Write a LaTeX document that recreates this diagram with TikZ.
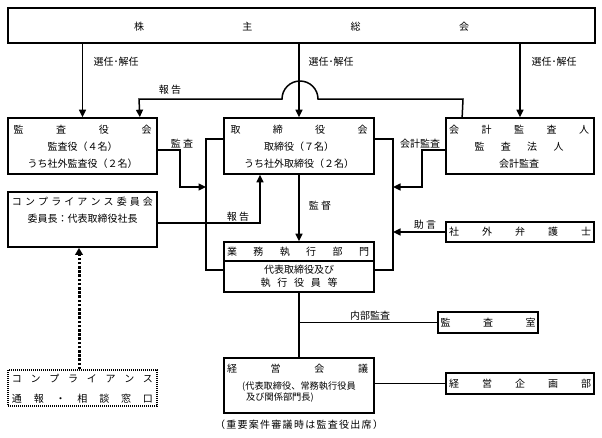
\documentclass[tikz,border=0pt]{standalone}
\usepackage{fontspec}
\setmainfont{Noto Sans CJK JP}
\usetikzlibrary{arrows.meta}
\tikzset{
 bx/.style={draw, line width=1.7pt, inner sep=0pt},
 ln/.style={line width=1.5pt},
 arr/.style={line width=1.5pt, -{Triangle[length=7.5pt,width=7pt]}},
 dotarr/.style={line width=3pt, dash pattern=on 2.6pt off 1.6pt, -{Triangle[length=7pt,width=7.5pt]}},
 tx/.style={inner sep=0pt, font=\fontsize{10}{11}\selectfont},
 sm/.style={inner sep=0pt, font=\fontsize{9.2}{11}\selectfont},
}
\newcommand\spr[2]{\makebox[#1][s]{#2}}
\begin{document}
\begin{tikzpicture}[x=1pt,y=-1pt]
\useasboundingbox (0,0) rectangle (602,437);
% boxes
\node[bx, minimum width=587pt, minimum height=35pt] (sh) at (301.5,25.5) {};
\node[bx, minimum width=149pt, minimum height=56pt] (kansa) at (82.5,146) {};
\node[bx, minimum width=150pt, minimum height=56pt] (tori) at (299,146) {};
\node[bx, minimum width=148pt, minimum height=56pt] (kaikei) at (520,146) {};
\node[bx, minimum width=149pt, minimum height=55pt] (comp) at (82.5,219.5) {};
\node[draw, line width=1.2pt, dash pattern=on 1pt off 1pt, inner sep=0pt, minimum width=149pt, minimum height=36pt] (window) at (82.5,388) {};
\node[bx, minimum width=150pt, minimum height=50pt] (gyomu) at (299,267) {};
\node[bx, minimum width=148pt, minimum height=20pt] (bengo) at (520,232) {};
\node[bx, minimum width=100pt, minimum height=21pt] (kshitsu) at (488,322.5) {};
\node[bx, minimum width=150pt, minimum height=55pt] (keiei) at (299,385.5) {};
\node[bx, minimum width=148pt, minimum height=21pt] (kikaku) at (520,383.5) {};
\draw[line width=1.7pt] ([yshift=6pt]gyomu.west) -- ([yshift=6pt]gyomu.east);
% texts in boxes
\node[tx] (shT) at (301.5,27) {\spr{335pt}{株\hfill 主\hfill 総\hfill 会}};
\node[tx] (kansaT1) at (82.5,130) {\spr{138pt}{監\hfill 査\hfill 役\hfill 会}};
\node[tx] (kansaT2) at (82.5,147) {監査役（４名）};
\node[tx] (kansaT3) at (82.5,164) {うち社外監査役（２名）};
\node[tx] (toriT1) at (299,130) {\spr{137pt}{取\hfill 締\hfill 役\hfill 会}};
\node[tx] (toriT2) at (299,147) {取締役（７名）};
\node[tx] (toriT3) at (299,164) {うち社外取締役（２名）};
\node[tx] (kaikeiT1) at (519,130) {\spr{140pt}{会\hfill 計\hfill 監\hfill 査\hfill 人}};
\node[tx] (kaikeiT2) at (519,147) {\spr{89pt}{監\hfill 査\hfill 法\hfill 人}};
\node[tx] (kaikeiT3) at (519,164) {会計監査};
\node[tx] (compT1) at (82.5,202) {\spr{141pt}{コ\hfill ン\hfill プ\hfill ラ\hfill イ\hfill ア\hfill ン\hfill ス\hfill 委\hfill 員\hfill 会}};
\node[tx] (compT2) at (82.5,219) {委員長：代表取締役社長};
\node[tx] (winT1) at (82.5,379) {\spr{141pt}{コ\hfill ン\hfill プ\hfill ラ\hfill イ\hfill ア\hfill ン\hfill ス}};
\node[tx] (winT2) at (82.5,399) {\spr{141pt}{通\hfill 報\hfill ・\hfill 相\hfill 談\hfill 窓\hfill 口}};
\node[tx] (gyomuT1) at (298,252) {\spr{142pt}{業\hfill 務\hfill 執\hfill 行\hfill 部\hfill 門}};
\node[tx] (gyomuT2) at (299,270) {代表取締役及び};
\node[tx] (gyomuT3) at (299,283) {\spr{77pt}{執\hfill 行\hfill 役\hfill 員\hfill 等}};
\node[tx] (bengoT) at (520,232) {\spr{142pt}{社\hfill 外\hfill 弁\hfill 護\hfill 士}};
\node[tx] (kshitsuT) at (488,322.5) {\spr{95pt}{監\hfill 査\hfill 室}};
\node[tx] (keieiT1) at (297.5,369) {\spr{141pt}{経\hfill 営\hfill 会\hfill 議}};
\node[sm, anchor=west] (keieiT2) at (242,387) {(代表取締役、常務執行役員};
\node[sm, anchor=west] (keieiT3) at (246,397.5) {及び関係部門長)};
\node[tx] (kikakuT) at (520,383.5) {\spr{142pt}{経\hfill 営\hfill 企\hfill 画\hfill 部}};
\node[tx] (note) at (299,425) {\spr{168pt}{（\hfill 重\hfill 要\hfill 案\hfill 件\hfill 審\hfill 議\hfill 時\hfill は\hfill 監\hfill 査\hfill 役\hfill 出\hfill 席\hfill ）}};
% connectors
\draw[arr] (sh.south -| kansa) -- (kansa.north);
\draw[arr] (sh.south -| tori) -- (tori.north);
\draw[arr] (sh.south -| kaikei) -- (kaikei.north);
\node[tx] (l1) at (116,62) {選任･解任};
\node[tx] (l2) at (331,62) {選任･解任};
\node[tx] (l3) at (554,62) {選任･解任};
% report from kaikei to kansa with bump
\draw[arr] ([xshift=17pt]kaikei.north west) -- (463,99) -- (318,99) arc[start angle=0, end angle=180, radius=18pt] -- (139,99) -- ([xshift=-18pt]kansa.north east);
\node[tx] (l4) at (170,90) {報 告};
% brackets
\draw[ln] ([yshift=7pt]tori.west) -- (206,139) -- (206,270) -- ([yshift=-3pt]gyomu.west);
\draw[ln] ([yshift=7pt]tori.east) -- (393,139) -- (393,270) -- ([yshift=-3pt]gyomu.east);
\coordinate (lbA) at (206,187);
\coordinate (rbA) at (393,187);
\coordinate (rbB) at (393,232);
\draw[arr] ([yshift=-4pt]kansa.east) -- (180,150) -- (180,187) -- (lbA);
\node[tx] (l5) at (182,144) {監 査};
\draw[arr] ([yshift=-4pt]kaikei.west) -- (422,150) -- (422,187) -- (rbA);
\node[tx] (l6) at (420,144) {会計監査};
\draw[arr] (bengo.west) -- (rbB);
\node[tx] (l7) at (425,225) {助 言};
\draw[arr] (tori.south) -- (gyomu.north);
\node[tx] (l8) at (320,206) {監 督};
\draw[arr] ([yshift=-3.5pt]comp.east) -- (260,223) -- ([xshift=-39pt]tori.south);
\node[tx] (l9) at (238,217) {報 告};
\draw[dotarr] ([xshift=-3.5pt]window.north) -- ([xshift=-3.5pt]comp.south);
\draw[ln] (gyomu.south) -- (keiei.north);
\draw[ln] (gyomu.south |- kshitsu.west) -- (kshitsu.west);
\node[tx] (l10) at (370,316) {内部監査};
\draw[ln] (keiei.east |- kikaku.west) -- (kikaku.west);
\end{tikzpicture}
\end{document}
